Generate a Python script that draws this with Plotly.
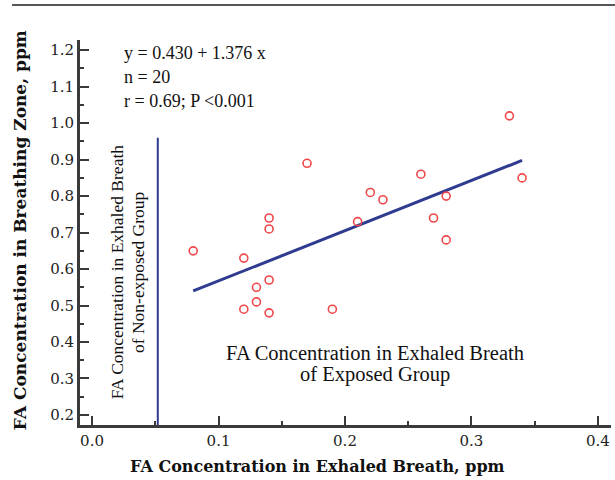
import plotly.graph_objects as go

# Data
exhaled_ppm = [0.08, 0.12, 0.17, 0.14, 0.14, 0.14, 0.13, 0.13, 0.12, 0.14,
               0.19, 0.21, 0.22, 0.23, 0.26, 0.27, 0.28, 0.28, 0.33, 0.34]
breathing_zone_ppm = [0.65, 0.63, 0.89, 0.74, 0.71, 0.57, 0.55, 0.51, 0.49, 0.48,
                      0.49, 0.73, 0.81, 0.79, 0.86, 0.74, 0.80, 0.68, 1.02, 0.85]

intercept = 0.430
slope = 1.376
fit_x = [0.08, 0.34]
fit_y = [intercept + slope * v for v in fit_x]

cutoff_x = [0.052, 0.052]
cutoff_y = [0.1725, 0.96]

x_ticks = [0.0, 0.1, 0.2, 0.3, 0.4]
y_ticks = [0.2, 0.3, 0.4, 0.5, 0.6, 0.7, 0.8, 0.9, 1.0, 1.1, 1.2]

AX = "#3a3a3a"
BLUE = "#2f3b8f"
RED = "#f0474a"
TICKFONT = dict(family="DejaVu Serif", size=15, color="#222")

fig = go.Figure()
fig.add_trace(go.Scatter(x=cutoff_x, y=cutoff_y, mode="lines",
                         line=dict(color=BLUE, width=2), hoverinfo="skip"))
fig.add_trace(go.Scatter(x=fit_x, y=fit_y, mode="lines",
                         line=dict(color=BLUE, width=3), hoverinfo="skip"))
fig.add_trace(go.Scatter(x=exhaled_ppm, y=breathing_zone_ppm, mode="markers",
                         marker=dict(symbol="circle-open", size=8, color=RED,
                                     line=dict(width=1.6, color=RED))))

fig.update_xaxes(range=[-0.0095, 0.4103], tickvals=x_ticks, tickformat=".1f",
                 showgrid=False, zeroline=False, showline=True, linewidth=3,
                 linecolor=AX, ticks="inside", ticklen=9, tickwidth=2,
                 tickcolor=AX, tickfont=TICKFONT,
                 minor=dict(dtick=0.05, tick0=0, ticks="inside", ticklen=4,
                            tickwidth=2, tickcolor=AX))
fig.update_yaxes(range=[0.1725, 1.228], tickvals=y_ticks, tickformat=".1f",
                 showgrid=False, zeroline=False, showline=True, linewidth=3,
                 linecolor=AX, ticks="inside", ticklen=9, tickwidth=2,
                 tickcolor=AX, tickfont=TICKFONT,
                 minor=dict(dtick=0.05, tick0=0.2, ticks="inside", ticklen=4,
                            tickwidth=2, tickcolor=AX))

ann_font = dict(family="Liberation Serif", size=18, color="#111")
big_font = dict(family="Liberation Serif", size=20.5, color="#111")
rot_font = dict(family="Liberation Serif", size=17.5, color="#111")
annotations = [
    dict(text="y = 0.430 + 1.376 x", x=0.079, y=0.967, xanchor="left", yanchor="middle", font=ann_font),
    dict(text="n = 20", x=0.079, y=0.903, xanchor="left", yanchor="middle", font=ann_font),
    dict(text="r = 0.69; P <0.001", x=0.079, y=0.842, xanchor="left", yanchor="middle", font=ann_font),
    dict(text="FA Concentration in Exhaled Breath", x=0.556, y=0.187, xanchor="center", yanchor="middle",
         font=big_font),
    dict(text="of Exposed Group", x=0.556, y=0.130, xanchor="center", yanchor="middle",
         font=big_font),
    dict(text="FA Concentration in Exhaled Breath", x=0.070, y=0.397, xanchor="center", yanchor="middle",
         textangle=-90, font=rot_font),
    dict(text="of Non-exposed Group", x=0.109, y=0.397, xanchor="center", yanchor="middle",
         textangle=-90, font=rot_font),
    dict(text="<b>FA Concentration in Exhaled Breath, ppm</b>", x=0.448, y=-0.109,
         xanchor="center", yanchor="middle",
         font=dict(family="DejaVu Serif", size=16, color="#111")),
    dict(text="<b>FA Concentration in Breathing Zone, ppm</b>", x=-0.113, y=0.506,
         xanchor="center", yanchor="middle", textangle=-90,
         font=dict(family="DejaVu Serif", size=17, color="#111")),
]
for a in annotations:
    a.update(xref="paper", yref="paper", showarrow=False)

fig.update_layout(
    width=615, height=480,
    margin=dict(l=80, r=4, t=40, b=55),
    paper_bgcolor="white", plot_bgcolor="white",
    showlegend=False,
    annotations=annotations,
    shapes=[dict(type="line", xref="paper", yref="paper",
                 x0=-0.128, x1=1.0075, y0=1.091, y1=1.091,
                 line=dict(color="#555", width=2))],
)

fig.write_html("out.html",
               config={"displayModeBar": False},
               post_script="document.body.style.margin='0px';document.body.style.overflow='hidden';")
